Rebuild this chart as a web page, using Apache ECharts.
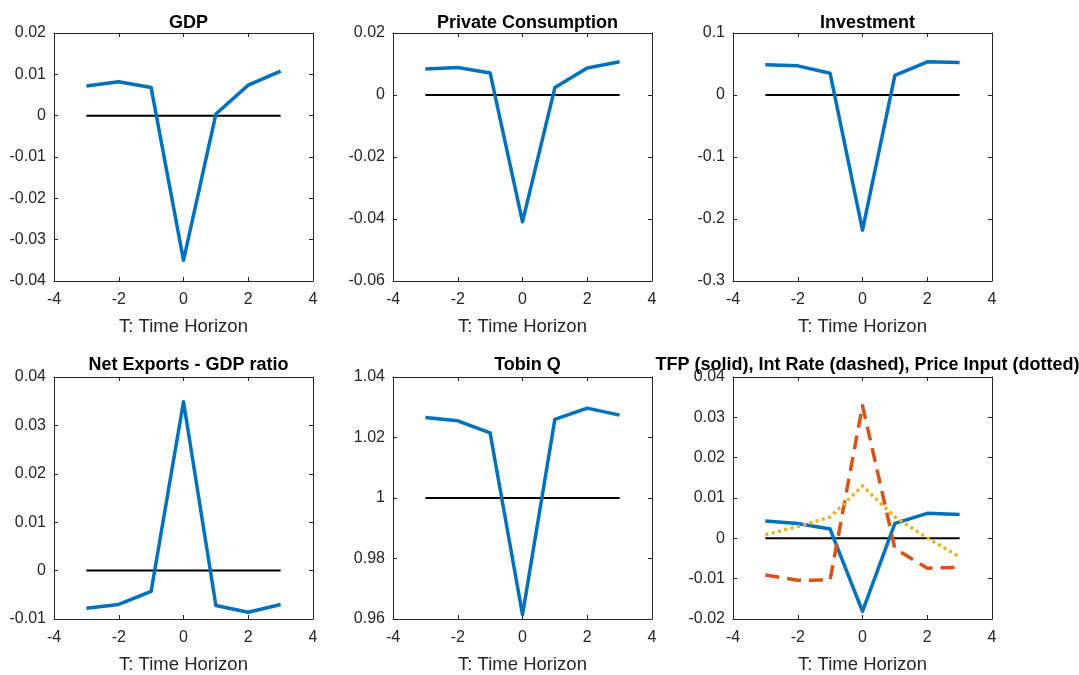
<!DOCTYPE html>
<html>
<head>
<meta charset="utf-8">
<script src="https://cdn.jsdelivr.net/npm/echarts@6/dist/echarts.min.js"></script>
<style>html,body{margin:0;padding:0;background:#fff}#c{width:1079px;height:675px}</style>
</head>
<body>
<div id="c"></div>
<script>
// ---- data ----
const T = [-3, -2, -1, 0, 1, 2, 3];
const gdp = [0.0072, 0.0082, 0.0068, -0.0350, 0.0004, 0.0074, 0.0108];
const privateConsumption = [0.0084, 0.0089, 0.0071, -0.0409, 0.0024, 0.0087, 0.0107];
const investment = [0.0488, 0.0470, 0.0350, -0.2180, 0.0315, 0.0536, 0.0526];
const netExportsRatio = [-0.0078, -0.0070, -0.0043, 0.0349, -0.0072, -0.0086, -0.0070];
const tobinQ = [1.0266, 1.0255, 1.0215, 0.9614, 1.0260, 1.0297, 1.0274];
const tfp = [0.0043, 0.0037, 0.0023, -0.0181, 0.0037, 0.0062, 0.0059];
const intRate = [-0.0091, -0.0104, -0.0103, 0.0329, -0.0025, -0.0074, -0.0072];
const priceInput = [0.0009, 0.0029, 0.0053, 0.0130, 0.0053, 0.0001, -0.0046];
const zeroLine = [0, 0, 0, 0, 0, 0, 0];
const tobinSteady = [1, 1, 1, 1, 1, 1, 1];

const panelTitles = ['GDP', 'Private Consumption', 'Investment', 'Net Exports - GDP ratio', 'Tobin Q',
  'TFP (solid), Int Rate (dashed), Price Input (dotted)'];
const xName = 'T: Time Horizon';
const xTicks = { min: -4, max: 4, interval: 2 };
const yMin = [-0.04, -0.06, -0.3, -0.01, 0.96, -0.02];
const yMax = [0.02, 0.02, 0.1, 0.04, 1.04, 0.04];
const yStep = [0.01, 0.02, 0.1, 0.01, 0.02, 0.01];

// ---- layout / style ----
const lefts = [54, 393, 733];
const tops = [33, 377];
const W = 259, H = 248;
const BLUE = '#0072BD', ORANGE = '#D95319', YELLOW = '#EDB120';
const axisCol = '#262626';
const FONT = 'Liberation Sans, Arial, Helvetica, sans-serif';

const panelSeries = [
  [{ d: zeroLine, c: '#000', w: 2 }, { d: gdp, c: BLUE, w: 3.5 }],
  [{ d: zeroLine, c: '#000', w: 2 }, { d: privateConsumption, c: BLUE, w: 3.5 }],
  [{ d: zeroLine, c: '#000', w: 2 }, { d: investment, c: BLUE, w: 3.5 }],
  [{ d: zeroLine, c: '#000', w: 2 }, { d: netExportsRatio, c: BLUE, w: 3.5 }],
  [{ d: tobinSteady, c: '#000', w: 2 }, { d: tobinQ, c: BLUE, w: 3.5 }],
  [{ d: zeroLine, c: '#000', w: 2 }, { d: tfp, c: BLUE, w: 3.5 },
   { d: intRate, c: ORANGE, w: 3.5, t: [14, 8] }, { d: priceInput, c: YELLOW, w: 3.5, t: [3, 3.5] }]
];

const grid = [], xAxis = [], yAxis = [], series = [], title = [];
const fmt = v => String(+v.toFixed(4));

for (let i = 0; i < 6; i++) {
  const col = i % 3, row = Math.floor(i / 3);
  const l = lefts[col], t = tops[row];
  grid.push({ left: l, top: t, width: W, height: H - row, containLabel: false });
  title.push({
    text: panelTitles[i], left: l + W / 2, top: t - 24 - row * 2, textAlign: 'center',
    textStyle: { fontFamily: FONT, fontSize: 18, fontWeight: 'bold', color: '#000' }
  });
  const axLine = { show: true, onZero: false, lineStyle: { color: axisCol, width: 1 } };
  const tick = { show: true, inside: true, length: 4, lineStyle: { color: axisCol } };
  xAxis.push({
    type: 'value', gridIndex: i, position: 'bottom', min: xTicks.min, max: xTicks.max, interval: xTicks.interval,
    axisLine: axLine, axisTick: tick, splitLine: { show: false },
    axisLabel: { color: axisCol, fontFamily: FONT, fontSize: 16, margin: 11 },
    name: xName, nameLocation: 'middle', nameGap: 36,
    nameTextStyle: { color: axisCol, fontFamily: FONT, fontSize: 18.5 }
  });
  xAxis.push({
    type: 'value', gridIndex: i, position: 'top', min: xTicks.min, max: xTicks.max, interval: xTicks.interval,
    axisLine: axLine, axisTick: tick, splitLine: { show: false }, axisLabel: { show: false }
  });
  yAxis.push({
    type: 'value', gridIndex: i, position: 'left', min: yMin[i], max: yMax[i], interval: yStep[i],
    axisLine: axLine, axisTick: tick, splitLine: { show: false },
    axisLabel: { color: axisCol, fontFamily: FONT, fontSize: 16, margin: 8, formatter: fmt }
  });
  yAxis.push({
    type: 'value', gridIndex: i, position: 'right', min: yMin[i], max: yMax[i], interval: yStep[i],
    axisLine: axLine, axisTick: tick, splitLine: { show: false }, axisLabel: { show: false }
  });
  panelSeries[i].forEach(s => {
    series.push({
      type: 'line', xAxisIndex: 2 * i, yAxisIndex: 2 * i,
      data: T.map((x, k) => [x, s.d[k]]),
      showSymbol: false, symbol: 'none', silent: true,
      lineStyle: { color: s.c, width: s.w, type: s.t || 'solid', cap: 'butt', join: 'round' }
    });
  });
}

const chart = echarts.init(document.getElementById('c'), null, { renderer: 'canvas' });
chart.setOption({ animation: false, backgroundColor: '#fff', title, grid, xAxis, yAxis, series });
</script>
</body>
</html>
